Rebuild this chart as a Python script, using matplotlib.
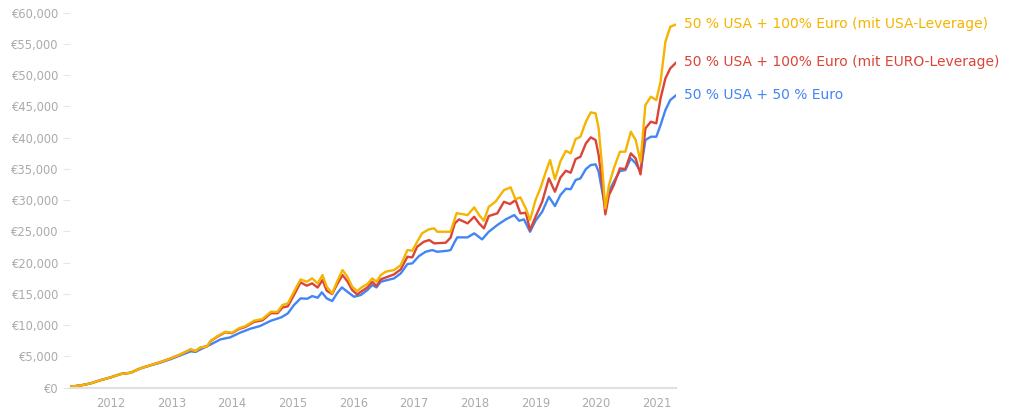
import matplotlib
matplotlib.use('Agg')
import matplotlib.pyplot as plt
from matplotlib.ticker import FuncFormatter

# 시간축 (소수 연도) 과 값 (유로) - 그림에서 읽은 값
usa_lev_t = [2011.33, 2011.51, 2011.67, 2011.84, 2012.00, 2012.16, 2012.33, 2012.49, 2012.66, 2012.82,
             2012.99, 2013.15, 2013.32, 2013.40, 2013.48, 2013.59, 2013.65, 2013.76, 2013.89, 2014.00,
             2014.11, 2014.22, 2014.36, 2014.50, 2014.64, 2014.75, 2014.83, 2014.92, 2015.02, 2015.13,
             2015.23, 2015.32, 2015.41, 2015.49, 2015.56, 2015.65, 2015.73, 2015.82, 2015.90, 2015.98,
             2016.06, 2016.15, 2016.23, 2016.31, 2016.38, 2016.45, 2016.53, 2016.67, 2016.78, 2016.89,
             2016.97, 2017.05, 2017.13, 2017.24, 2017.33, 2017.38, 2017.49, 2017.60, 2017.70, 2017.88,
             2017.99, 2018.07, 2018.15, 2018.23, 2018.34, 2018.48, 2018.59, 2018.67, 2018.75, 2018.84,
             2018.91, 2019.00, 2019.08, 2019.17, 2019.24, 2019.32, 2019.41, 2019.50, 2019.58, 2019.66,
             2019.74, 2019.83, 2019.91, 2019.99, 2020.04, 2020.10, 2020.15, 2020.21, 2020.29, 2020.39,
             2020.48, 2020.57, 2020.65, 2020.73, 2020.81, 2020.90, 2020.99, 2021.06, 2021.14, 2021.22,
             2021.32]
usa_lev_v = [130, 350, 670, 1200, 1630, 2160, 2370, 3070, 3600, 4080,
             4670, 5300, 6100, 5840, 6400, 6600, 7490, 8240, 8930, 8770,
             9470, 9840, 10690, 10960, 12130, 12130, 13200, 13470, 15330, 17310,
             16930, 17470, 16670, 18000, 16130, 15070, 16930, 18800, 17730, 16130,
             15440, 16130, 16560, 17470, 16930, 18000, 18530, 18800, 19600, 22000,
             21890, 23330, 24670, 25310, 25470, 24930, 24930, 24930, 27900, 27600,
             28830, 27600, 26690, 28930, 29730, 31600, 32030, 30110, 30430, 28670,
             26800, 30000, 31870, 34530, 36400, 33310, 36200, 37870, 37470, 39760,
             40130, 42530, 44030, 43870, 41470, 35070, 28670, 32400, 35070, 37730,
             37730, 40930, 39600, 36130, 45200, 46530, 46000, 48930, 55330, 57730,
             58110]

euro_lev_t = [2011.33, 2011.51, 2011.67, 2011.84, 2012.00, 2012.16, 2012.33, 2012.49, 2012.66, 2012.82,
              2012.99, 2013.15, 2013.32, 2013.40, 2013.48, 2013.59, 2013.65, 2013.76, 2013.89, 2014.00,
              2014.11, 2014.22, 2014.36, 2014.50, 2014.64, 2014.75, 2014.83, 2014.92, 2015.02, 2015.13,
              2015.23, 2015.32, 2015.41, 2015.49, 2015.56, 2015.65, 2015.73, 2015.82, 2015.90, 2015.98,
              2016.06, 2016.15, 2016.23, 2016.31, 2016.38, 2016.45, 2016.67, 2016.78, 2016.89, 2016.97,
              2017.05, 2017.16, 2017.25, 2017.33, 2017.52, 2017.60, 2017.67, 2017.74, 2017.88, 2017.99,
              2018.07, 2018.15, 2018.23, 2018.37, 2018.48, 2018.58, 2018.67, 2018.75, 2018.84, 2018.91,
              2019.00, 2019.11, 2019.22, 2019.32, 2019.41, 2019.50, 2019.58, 2019.66, 2019.74, 2019.83,
              2019.91, 2019.99, 2020.04, 2020.10, 2020.15, 2020.21, 2020.29, 2020.39, 2020.48, 2020.57,
              2020.65, 2020.73, 2020.81, 2020.90, 2020.99, 2021.06, 2021.14, 2021.22, 2021.32]
euro_lev_v = [130, 350, 670, 1200, 1630, 2160, 2370, 3070, 3600, 4080,
              4670, 5300, 6100, 5840, 6400, 6600, 7450, 8150, 8850, 8700,
              9350, 9700, 10500, 10750, 11900, 11900, 12800, 13000, 14800, 16830,
              16300, 16670, 16000, 17200, 15500, 14960, 16500, 18000, 17000, 15600,
              14910, 15500, 16030, 16930, 16240, 17310, 18110, 18910, 20930, 20830,
              22530, 23330, 23600, 23070, 23170, 23970, 26270, 26910, 26270, 27330,
              26270, 25470, 27440, 27870, 29730, 29360, 30000, 27870, 27970, 25200,
              27330, 29730, 33470, 31330, 33600, 34690, 34370, 36560, 36930, 39070,
              40030, 39600, 37200, 32400, 27710, 30800, 32400, 35070, 34960, 37470,
              36670, 34110, 41470, 42530, 42270, 46270, 49470, 51070, 52030]

base_t = [2011.33, 2011.51, 2011.67, 2011.84, 2012.00, 2012.16, 2012.33, 2012.49, 2012.66, 2012.82,
          2012.99, 2013.15, 2013.32, 2013.40, 2013.48, 2013.65, 2013.81, 2013.97, 2014.13, 2014.30,
          2014.46, 2014.64, 2014.81, 2014.92, 2015.02, 2015.13, 2015.24, 2015.32, 2015.41, 2015.48,
          2015.56, 2015.65, 2015.73, 2015.81, 2015.90, 2016.01, 2016.12, 2016.23, 2016.31, 2016.38,
          2016.45, 2016.67, 2016.78, 2016.89, 2016.97, 2017.08, 2017.19, 2017.30, 2017.38, 2017.55,
          2017.60, 2017.67, 2017.71, 2017.88, 2017.99, 2018.12, 2018.23, 2018.37, 2018.51, 2018.65,
          2018.73, 2018.81, 2018.91, 2019.00, 2019.11, 2019.22, 2019.32, 2019.41, 2019.50, 2019.58,
          2019.66, 2019.74, 2019.83, 2019.91, 2019.99, 2020.04, 2020.10, 2020.15, 2020.21, 2020.29,
          2020.39, 2020.48, 2020.57, 2020.65, 2020.73, 2020.81, 2020.90, 2020.99, 2021.06, 2021.14,
          2021.22, 2021.32]
base_v = [130, 350, 670, 1200, 1630, 2160, 2370, 3070, 3550, 4000,
          4550, 5150, 5800, 5700, 6110, 6910, 7710, 8030, 8770, 9410,
          9840, 10690, 11230, 11870, 13200, 14270, 14210, 14640, 14370, 15230,
          14270, 13840, 15070, 16030, 15330, 14530, 14800, 15600, 16400, 16030,
          16930, 17470, 18270, 19760, 19870, 21040, 21730, 22000, 21730, 21890,
          22000, 23330, 24030, 24030, 24670, 23710, 24930, 26000, 26910, 27600,
          26690, 26910, 24930, 26690, 28130, 30530, 29040, 30800, 31800, 31740,
          33200, 33470, 34960, 35600, 35710, 34530, 31330, 28800, 31330, 32930,
          34640, 34800, 36670, 35870, 34530, 39600, 40130, 40130, 42000, 44400,
          46000, 46800]

labels = ['50 % USA + 50 % Euro',
          '50 % USA + 100% Euro (mit EURO-Leverage)',
          '50 % USA + 100% Euro (mit USA-Leverage)']
colors = ['#4285F4', '#DB4437', '#F4B400']
year_ticks = [2012, 2013, 2014, 2015, 2016, 2017, 2018, 2019, 2020, 2021]

plt.rcParams['font.family'] = ['DejaVu Sans']

fig = plt.figure(figsize=(10.14, 4.11), dpi=100)
ax = fig.add_axes([0.069, 0.057, 0.598, 0.9125])

# 파랑 -> 빨강 -> 노랑 순서 (노랑이 위)
series = [(base_t, base_v), (euro_lev_t, euro_lev_v), (usa_lev_t, usa_lev_v)]
for (t, v), lab, c in zip(series, labels, colors):
    ax.plot(t, v, color=c, lw=1.7, solid_joinstyle='round')
    ax.annotate(lab, xy=(t[-1], v[-1]), xytext=(8, 0), textcoords='offset pixels',
                color=c, fontsize=10, va='center', ha='left', annotation_clip=False)

ax.set_xlim(usa_lev_t[0], usa_lev_t[-1])
ax.set_ylim(0, 60000)
ax.set_yticks(range(0, 60001, 5000))
ax.yaxis.set_major_formatter(FuncFormatter(lambda y, p: '€{:,.0f}'.format(y)))
ax.set_xticks(year_ticks)
ax.set_xticklabels([str(y) for y in year_ticks])

for s in ['top', 'right', 'left']:
    ax.spines[s].set_visible(False)
ax.spines['bottom'].set_color('#e0e0e0')
ax.spines['bottom'].set_linewidth(1.5)

ax.tick_params(axis='y', length=5, width=0.8, color='#e6e6e6', pad=3, labelsize=8.3, labelcolor='#ababab')
ax.tick_params(axis='x', length=0, pad=7, labelsize=8.3, labelcolor='#ababab')

plt.savefig('out.png', dpi=100)
